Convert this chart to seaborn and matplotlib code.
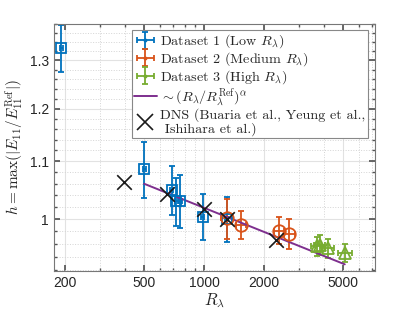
import numpy as np
import pandas as pd
import seaborn as sns
import matplotlib.pyplot as plt
from matplotlib.container import ErrorbarContainer
from matplotlib.legend_handler import HandlerErrorbar
from matplotlib.lines import Line2D

# Dataset 1 (Low R_lambda)
d1_re = [192, 500, 689, 725, 759, 986, 1300]
d1_h = [1.326, 1.086, 1.049, 1.030, 1.031, 1.004, 1.000]
d1_herr = [0.052, 0.050, 0.043, 0.041, 0.045, 0.038, 0.037]
d1_reerr = [3, 8, 11, 12, 12, 16, 20]

# Dataset 2 (Medium R_lambda)
d2_re = [1303, 1536, 2385, 2687]
d2_h = [1.001, 0.990, 0.981, 0.976]
d2_herr = [0.033, 0.023, 0.022, 0.024]
d2_reerr = [80, 95, 150, 170]

# Dataset 3 (High R_lambda)
d3_re = [3680, 3830, 4220, 5120]
d3_h = [0.956, 0.958, 0.953, 0.946]
d3_herr = [0.015, 0.016, 0.015, 0.014]
d3_reerr = [230, 250, 300, 420]

# power-law fit endpoints
fit_re = [500, 5100]
fit_h = [1.060, 0.928]

# DNS (Buaria, Yeung, Ishihara)
dns_re = [394, 650, 994, 1303, 2301]
dns_h = [1.063, 1.043, 1.016, 1.000, 0.966]

labels = [r"Dataset 1 (Low $R_\lambda$)",
          r"Dataset 2 (Medium $R_\lambda$)",
          r"Dataset 3 (High $R_\lambda$)",
          r"$\sim(R_\lambda/R_\lambda^{\rm Ref})^\alpha$",
          "DNS (Buaria et al., Yeung et al.,\n Ishihara et al.)"]

sns.set_theme(style="ticks")
plt.rcParams["font.family"] = ["Liberation Sans", "DejaVu Sans"]
plt.rcParams["mathtext.fontset"] = "cm"

blue = "#0072BD"
orange = "#D95319"
green = "#77AC30"
purple = "#7E2F8E"

fig = plt.figure(figsize=(4.15, 3.15), dpi=100)
ax = fig.add_axes([0.130, 0.140, 0.774, 0.784])
ax.set_xscale("log")
ax.set_yscale("log")

common = dict(linestyle="none", elinewidth=1.3, capsize=2.5, capthick=1.3,
              markerfacecolor="none", markeredgewidth=1.3)
e1 = ax.errorbar(d1_re, d1_h, yerr=d1_herr, xerr=d1_reerr, fmt="s",
                 color=blue, markersize=7, **common)
e2 = ax.errorbar(d2_re, d2_h, yerr=d2_herr, xerr=d2_reerr, fmt="o",
                 color=orange, markersize=9, **common)
e3 = ax.errorbar(d3_re, d3_h, yerr=d3_herr, xerr=d3_reerr, fmt="^",
                 color=green, markersize=8, **common)

fit = pd.DataFrame({"re": fit_re, "h": fit_h})
sns.lineplot(data=fit, x="re", y="h", color=purple, linewidth=1.4, ax=ax)
dns = pd.DataFrame({"re": dns_re, "h": dns_h})
sns.scatterplot(data=dns, x="re", y="h", marker="x", s=110, color="#1a1a1a",
                linewidth=1.2, ax=ax, zorder=5)

ax.set_xlim(176, 7250)
ax.set_ylim(0.918, 1.38)
ax.set_xticks([200, 500, 1000, 2000, 5000])
ax.set_xticklabels(["200", "500", "1000", "2000", "5000"])
ax.set_xticks([300, 400, 600, 700, 800, 900, 3000, 4000, 6000, 7000], minor=True)
ax.set_xticklabels([], minor=True)
ax.set_yticks([1.0, 1.1, 1.2, 1.3])
ax.set_yticklabels(["1", "1.1", "1.2", "1.3"])
ax.set_yticks(np.arange(0.92, 1.381, 0.02), minor=True)
ax.set_yticklabels([], minor=True)

ax.grid(True, which="major", color="#e2e2e2", linewidth=0.8)
ax.grid(True, which="minor", color="#d4d4d4", linestyle=":", linewidth=0.7)
ax.tick_params(which="both", direction="in", top=True, right=True,
               color="#555555", labelsize=10, labelcolor="#262626")
ax.tick_params(which="major", length=4)
ax.tick_params(which="minor", length=2)
for s in ax.spines.values():
    s.set_color("#777777")
    s.set_linewidth(0.8)

ax.set_xlabel(r"$R_\lambda$", fontsize=12, labelpad=1)
ax.set_ylabel(r"$h = \max(|E_{11}/E_{11}^{\rm Ref}|)$", fontsize=11, labelpad=3)


def small_marker(handle, orig):
    handle.update_from(orig)
    if isinstance(handle, Line2D) and handle.get_marker() in ("s", "o", "^"):
        handle.set_marker(".")
        handle.set_markersize(3)


handles = [e1, e2, e3,
           Line2D([], [], color=purple, lw=1.4),
           Line2D([], [], color="#1a1a1a", marker="x", markersize=11,
                  markeredgewidth=1.2, linestyle="none")]
leg = ax.legend(handles, labels, loc="upper right",
                bbox_to_anchor=(0.985, 0.985), frameon=True, fancybox=False,
                edgecolor="#888888", framealpha=1, borderpad=0.15,
                labelspacing=0.0, handlelength=1.6, handletextpad=0.25,
                borderaxespad=0.2,
                prop={"family": "cmr10", "size": 10.2},
                handler_map={ErrorbarContainer: HandlerErrorbar(
                    xerr_size=0.6, yerr_size=0.6, update_func=small_marker)})
leg.get_frame().set_linewidth(0.8)
leg.get_texts()[4].set_linespacing(1.1)

fig.savefig("out.png", dpi=100)
